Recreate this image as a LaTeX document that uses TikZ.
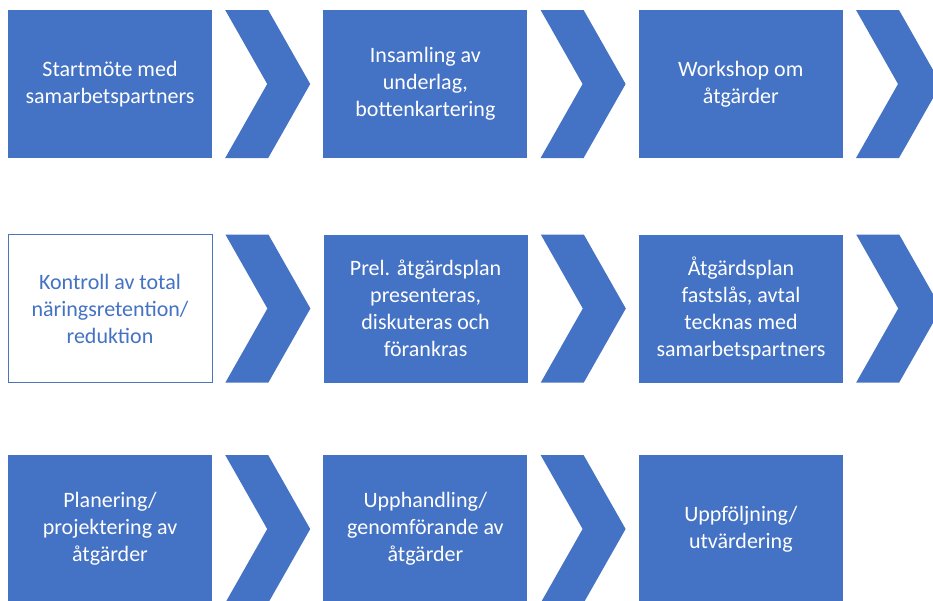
\documentclass[tikz,border=0pt]{standalone}
\usepackage{fontspec}
\setmainfont{Carlito}
\definecolor{stepBlue}{HTML}{4472C4}
\usetikzlibrary{calc,positioning}

\tikzset{
  stepbox/.style={fill=stepBlue, text=white, minimum width=204pt, minimum height=148pt,
    inner sep=0pt, align=center, font=\fontsize{22}{27}\selectfont},
  openbox/.style={stepbox, fill=white, draw=stepBlue!85!gray, line width=0.8pt, text=stepBlue},
  chev/.pic={\fill[stepBlue] (0,74) -- (43,74) -- (85,0) -- (43,-74) -- (0,-74) -- (42,0) -- cycle;}
}

\begin{document}
\begin{tikzpicture}[x=1pt,y=1pt]
  \useasboundingbox (0,0) rectangle (933,-600);
  % row 1
  \node[stepbox] (start) at (110,-84) {Startmöte med\\samarbetspartners};
  \node[stepbox, right=111pt of start] (insamling) {Insamling av\\underlag,\\bottenkartering};
  \node[stepbox, right=111pt of insamling] (workshop) {Workshop om\\åtgärder};
  % row 2
  \node[openbox] (kontroll) at (110,-308.5) {Kontroll av total\\näringsretention/\\reduktion};
  \node[stepbox, right=111pt of kontroll] (prel) {Prel. åtgärdsplan\\presenteras,\\diskuteras och\\förankras};
  \node[stepbox, right=111pt of prel] (fastslas) {Åtgärdsplan\\fastslås, avtal\\tecknas med\\samarbetspartners};
  % row 3
  \node[stepbox] (planering) at (110,-529) {Planering/\\projektering av\\åtgärder};
  \node[stepbox, right=111pt of planering] (upphandling) {Upphandling/\\genomförande av\\åtgärder};
  \node[stepbox, right=111pt of upphandling] (uppfoljning) {Uppföljning/\\utvärdering};
  % chevrons between steps
  \foreach \n in {start,insamling,workshop,kontroll,prel,fastslas,planering,upphandling}
    \pic at ($(\n.east)+(13,0)$) {chev};
\end{tikzpicture}
\end{document}
